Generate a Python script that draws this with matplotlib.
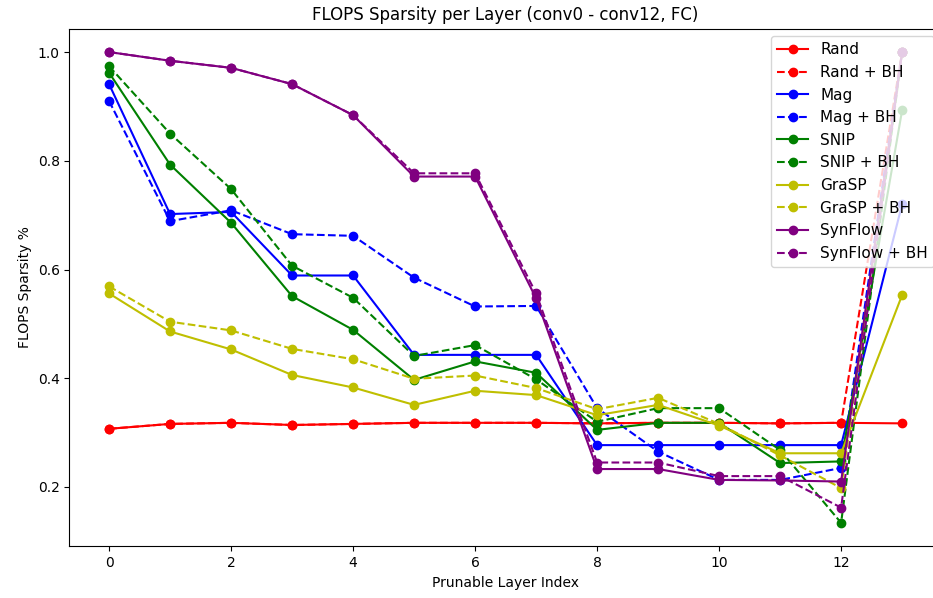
import matplotlib
matplotlib.use("Agg")
import matplotlib.pyplot as plt

layers = list(range(14))

rand = [0.307, 0.316, 0.318, 0.314, 0.316, 0.318, 0.318, 0.318, 0.317, 0.318, 0.318, 0.317, 0.318, 0.317]
rand_bh = [0.307, 0.316, 0.318, 0.314, 0.316, 0.318, 0.318, 0.318, 0.317, 0.318, 0.318, 0.317, 0.318, 1.0]
mag = [0.941, 0.702, 0.706, 0.589, 0.589, 0.443, 0.443, 0.443, 0.277, 0.277, 0.277, 0.277, 0.277, 0.720]
mag_bh = [0.910, 0.689, 0.709, 0.665, 0.662, 0.585, 0.532, 0.533, 0.345, 0.265, 0.213, 0.213, 0.235, 1.0]
snip = [0.962, 0.793, 0.686, 0.551, 0.489, 0.397, 0.431, 0.410, 0.305, 0.318, 0.318, 0.244, 0.247, 0.893]
snip_bh = [0.974, 0.850, 0.748, 0.607, 0.548, 0.441, 0.461, 0.398, 0.320, 0.345, 0.345, 0.268, 0.134, 1.0]
grasp = [0.556, 0.486, 0.453, 0.406, 0.383, 0.351, 0.377, 0.369, 0.332, 0.351, 0.313, 0.262, 0.262, 0.553]
grasp_bh = [0.569, 0.504, 0.488, 0.454, 0.435, 0.399, 0.405, 0.382, 0.343, 0.364, 0.316, 0.258, 0.198, 1.0]
synflow = [1.0, 0.984, 0.971, 0.941, 0.884, 0.771, 0.771, 0.547, 0.233, 0.233, 0.213, 0.212, 0.210, 1.0]
synflow_bh = [1.0, 0.984, 0.971, 0.941, 0.884, 0.777, 0.777, 0.556, 0.245, 0.245, 0.220, 0.220, 0.162, 1.0]

series = [
    ("Rand", rand, "r", "-"),
    ("Rand + BH", rand_bh, "r", "--"),
    ("Mag", mag, "b", "-"),
    ("Mag + BH", mag_bh, "b", "--"),
    ("SNIP", snip, "g", "-"),
    ("SNIP + BH", snip_bh, "g", "--"),
    ("GraSP", grasp, "y", "-"),
    ("GraSP + BH", grasp_bh, "y", "--"),
    ("SynFlow", synflow, "purple", "-"),
    ("SynFlow + BH", synflow_bh, "purple", "--"),
]

fig = plt.figure(figsize=(9.33, 5.98), dpi=100)
# axes run a little past the right edge, as in the reference crop
ax = fig.add_axes([0.0744, 0.0863, 0.935, 0.866])

for label, vals, color, ls in series:
    ax.plot(layers, vals, color=color, linestyle=ls, marker="o", label=label)

ax.set_title("FLOPS Sparsity per Layer (conv0 - conv12, FC)")
ax.set_xlabel("Prunable Layer Index")
ax.set_ylabel("FLOPS Sparsity %")
ax.legend(loc="upper right", fontsize=11)

fig.savefig("out.png", dpi=100)
